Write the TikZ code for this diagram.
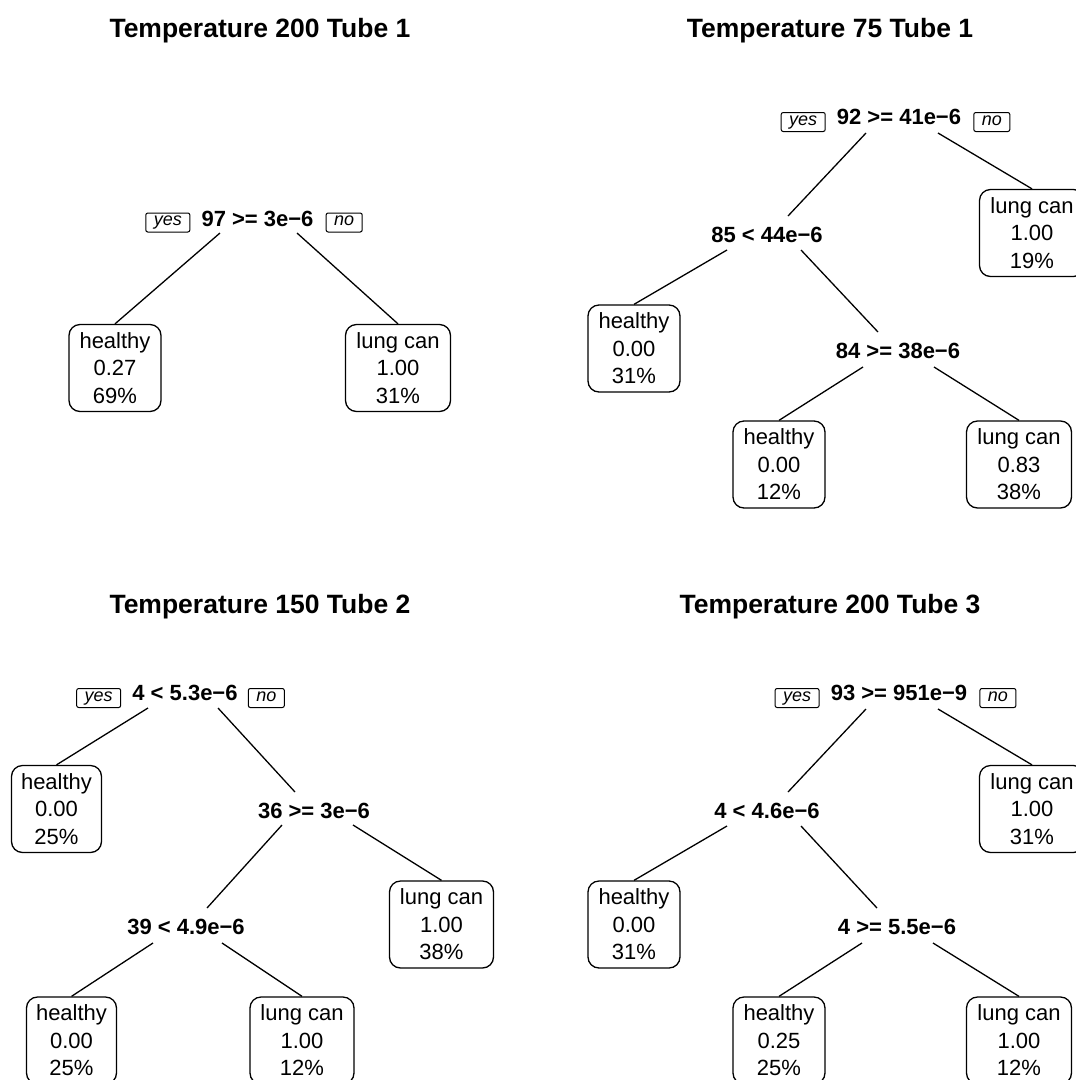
\documentclass[tikz,border=0pt]{standalone}
\usepackage{fontspec}
\setmainfont{Liberation Sans}
\begin{document}
\begin{tikzpicture}[x=1pt,y=-1pt,
  every node/.style={inner sep=0pt},
  ttl/.style={anchor=base, font=\fontsize{26.5}{30}\selectfont\bfseries},
  splitlab/.style={font=\fontsize{22}{26}\selectfont\bfseries},
  leafbox/.style={draw, line width=1.3pt, rounded corners=11pt, minimum height=87pt,
    align=center, font=\fontsize{22}{27.5}\selectfont},
  hbox/.style={leafbox, minimum width=92pt},
  lbox/.style={leafbox, minimum width=105pt},
  yntag/.style={draw, line width=1pt, rounded corners=2pt, inner xsep=8pt,
    minimum height=19pt, text height=9pt, text depth=3pt,
    font=\fontsize{18}{20}\selectfont\itshape},
  brl/.style={line width=1.3pt}]
\useasboundingbox (0,0) rectangle (1076,1080);
\fill[white] (0,0) rectangle (1076,1080);
\clip (0,0) rectangle (1076,1080);

% ---------- Temperature 200 Tube 1 ----------
\node[ttl] (a-title) at (260,37) {Temperature 200 Tube 1};
\node[splitlab] (a-r) at (257.5,218.5) {97 >= 3e−6};
\node[yntag, anchor=east] (a-yes) at ([shift={(-11,4)}]a-r.west) {yes};
\node[yntag, anchor=west] (a-no) at ([shift={(12,4)}]a-r.east) {no};
\node[hbox] (a-l1) at (115,368) {healthy\\0.27\\69\%};
\node[lbox] (a-l2) at (398,368) {lung can\\1.00\\31\%};
\draw[brl] ([shift={(-37.5,14.5)}]a-r.center) -- (a-l1.north);
\draw[brl] ([shift={(39.5,14.5)}]a-r.center) -- (a-l2.north);

% ---------- Temperature 75 Tube 1 ----------
\begin{scope}[shift={(570,0)}]
\node[ttl] (b-title) at (260,37) {Temperature 75 Tube 1};
\node[splitlab] (b-r) at (329,117) {92 >= 41e−6};
\node[yntag, anchor=east] (b-yes) at ([shift={(-11,5)}]b-r.west) {yes};
\node[yntag, anchor=west] (b-no) at ([shift={(12,5)}]b-r.east) {no};
\node[splitlab] (b-s1) at (197,235) {85 < 44e−6};
\node[lbox] (b-l1) at (462,233) {lung can\\1.00\\19\%};
\node[hbox] (b-l2) at (64,348.5) {healthy\\0.00\\31\%};
\node[splitlab] (b-s2) at (328,351) {84 >= 38e−6};
\node[hbox] (b-l3) at (209,464.5) {healthy\\0.00\\12\%};
\node[lbox] (b-l4) at (449,464.5) {lung can\\0.83\\38\%};
\draw[brl] ([shift={(-33,16)}]b-r.center) -- ([shift={(21,-19)}]b-s1.center);
\draw[brl] ([shift={(39,16)}]b-r.center) -- (b-l1.north);
\draw[brl] ([shift={(-40,15)}]b-s1.center) -- (b-l2.north);
\draw[brl] ([shift={(34,15)}]b-s1.center) -- ([shift={(-20,-19)}]b-s2.center);
\draw[brl] ([shift={(-35,16)}]b-s2.center) -- (b-l3.north);
\draw[brl] ([shift={(36,16)}]b-s2.center) -- (b-l4.north);
\end{scope}

% ---------- Temperature 150 Tube 2 ----------
\begin{scope}[shift={(0,576)}]
\node[ttl] (c-title) at (260,37) {Temperature 150 Tube 2};
\node[splitlab] (c-r) at (185,117) {4 < 5.3e−6};
\node[yntag, anchor=east] (c-yes) at ([shift={(-11,5)}]c-r.west) {yes};
\node[yntag, anchor=west] (c-no) at ([shift={(10,5)}]c-r.east) {no};
\node[hbox, minimum width=90pt] (c-l1) at (56.5,233) {healthy\\0.00\\25\%};
\node[splitlab] (c-s1) at (314,235) {36 >= 3e−6};
\node[lbox, minimum width=104pt] (c-l2) at (441.5,348.5) {lung can\\1.00\\38\%};
\node[splitlab] (c-s2) at (186,351) {39 < 4.9e−6};
\node[hbox, minimum width=90pt] (c-l3) at (71.5,464.5) {healthy\\0.00\\25\%};
\node[lbox, minimum width=104pt] (c-l4) at (302,464.5) {lung can\\1.00\\12\%};
\draw[brl] ([shift={(-37,15)}]c-r.center) -- (c-l1.north);
\draw[brl] ([shift={(33,15)}]c-r.center) -- ([shift={(-19,-19)}]c-s1.center);
\draw[brl] ([shift={(-32,14)}]c-s1.center) -- ([shift={(21,-19)}]c-s2.center);
\draw[brl] ([shift={(39,14)}]c-s1.center) -- (c-l2.north);
\draw[brl] ([shift={(-33,16)}]c-s2.center) -- (c-l3.north);
\draw[brl] ([shift={(36,16)}]c-s2.center) -- (c-l4.north);
\end{scope}

% ---------- Temperature 200 Tube 3 ----------
\begin{scope}[shift={(570,576)}]
\node[ttl] (d-title) at (260,37) {Temperature 200 Tube 3};
\node[splitlab] (d-r) at (329,117) {93 >= 951e−9};
\node[yntag, anchor=east] (d-yes) at ([shift={(-11,5)}]d-r.west) {yes};
\node[yntag, anchor=west] (d-no) at ([shift={(12,5)}]d-r.east) {no};
\node[splitlab] (d-s1) at (197,235) {4 < 4.6e−6};
\node[lbox] (d-l1) at (462,233) {lung can\\1.00\\31\%};
\node[hbox] (d-l2) at (64,348.5) {healthy\\0.00\\31\%};
\node[splitlab] (d-s2) at (327,351) {4 >= 5.5e−6};
\node[hbox] (d-l3) at (209,464.5) {healthy\\0.25\\25\%};
\node[lbox] (d-l4) at (449,464.5) {lung can\\1.00\\12\%};
\draw[brl] ([shift={(-33,16)}]d-r.center) -- ([shift={(21,-19)}]d-s1.center);
\draw[brl] ([shift={(39,16)}]d-r.center) -- (d-l1.north);
\draw[brl] ([shift={(-40,15)}]d-s1.center) -- (d-l2.north);
\draw[brl] ([shift={(34,15)}]d-s1.center) -- ([shift={(-20,-19)}]d-s2.center);
\draw[brl] ([shift={(-35,16)}]d-s2.center) -- (d-l3.north);
\draw[brl] ([shift={(36,16)}]d-s2.center) -- (d-l4.north);
\end{scope}
\end{tikzpicture}
\end{document}
